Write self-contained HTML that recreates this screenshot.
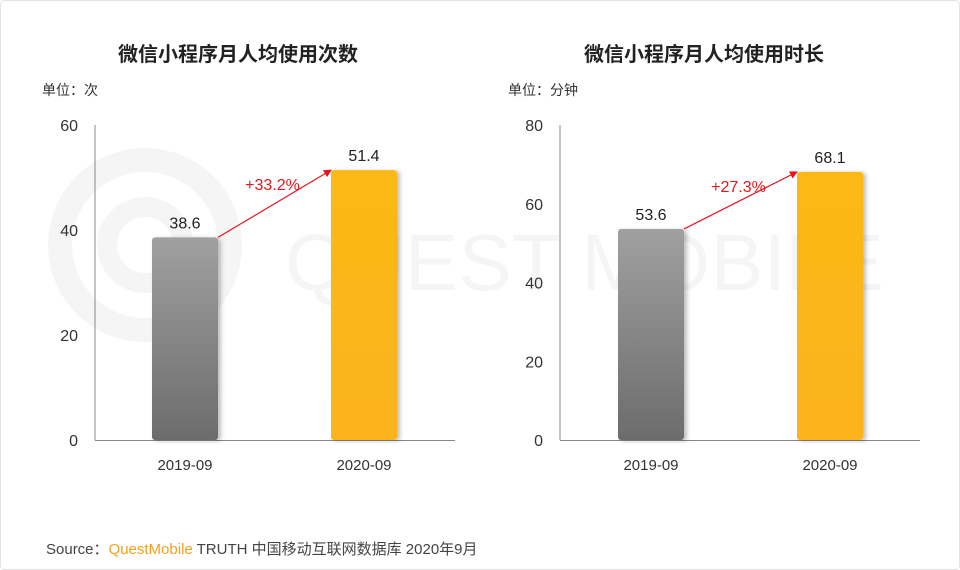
<!DOCTYPE html>
<html><head><meta charset="utf-8">
<style>
body{margin:0;background:#fff;}
#wrap{position:relative;width:960px;height:570px;overflow:hidden;background:#fff;font-family:"Liberation Sans","Noto Sans CJK SC",sans-serif;}
.title{position:absolute;top:38px;font-size:20px;font-weight:bold;color:#222;}
.unit{position:absolute;top:80px;font-size:14px;color:#333;}
.src{position:absolute;left:46px;top:538px;font-size:15px;color:#444;}
.src b{font-weight:normal;color:#f5a01e;}
</style></head><body>
<div id="wrap">
<svg id="svg" width="960" height="570" style="position:absolute;left:0;top:0">
<defs>
<linearGradient id="gGray" x1="0" y1="0" x2="0" y2="1"><stop offset="0" stop-color="#a0a0a0"/><stop offset="1" stop-color="#6c6c6c"/></linearGradient>
<linearGradient id="gGold" x1="0" y1="0" x2="0" y2="1"><stop offset="0" stop-color="#fbb817"/><stop offset="1" stop-color="#fbb41d"/></linearGradient>
<filter id="sh" x="-20%" y="-10%" width="150%" height="120%"><feDropShadow dx="3" dy="1" stdDeviation="2" flood-color="#000" flood-opacity="0.25"/></filter>
<marker id="arr" markerWidth="8" markerHeight="8" refX="7" refY="4" orient="auto" markerUnits="userSpaceOnUse"><path d="M0,0 L8,4 L0,8 z" fill="#e8141b"/></marker>
</defs>
<rect x="0.5" y="0.5" width="959" height="569" rx="4" fill="none" stroke="#e2e2e2"/>
<g opacity="0.035" fill="none" stroke="#000">
<circle cx="145" cy="245" r="85" stroke-width="24"/><circle cx="145" cy="245" r="38" stroke-width="20"/>
<text x="285" y="290" font-size="80" fill="#000" stroke="none" font-family="Liberation Sans">QUEST MOBILE</text>
</g>
</svg>
<div class="title" style="left:118px">微信小程序月人均使用次数</div>
<div class="title" style="left:584px">微信小程序月人均使用时长</div>
<div class="unit" style="left:42px">单位：次</div>
<div class="unit" style="left:508px">单位：分钟</div>
<div class="src">Source：<b>QuestMobile</b> TRUTH 中国移动互联网数据库 2020年9月</div>
</div>
<script>
const categories = ["2019-09","2020-09"];
const leftValues = [38.6, 51.4];
const rightValues = [53.6, 68.1];
const leftTicks = [0,20,40,60];
const rightTicks = [0,20,40,60,80];
const leftGrowth = "+33.2%";
const rightGrowth = "+27.3%";

const NS="http://www.w3.org/2000/svg";
const svg=document.getElementById('svg');
function mk(tag,attrs,txt){const e=document.createElementNS(NS,tag);for(const k in attrs)e.setAttribute(k,attrs[k]);if(txt!=null)e.textContent=txt;svg.appendChild(e);return e;}

function drawChart(prefix,axisX,axisEnd,barXs,values,ticks,growth){
  const y0=440,yTop=125,max=ticks[ticks.length-1];
  const y=v=>y0-(v/max)*(y0-yTop);
  const ax=mk('line',{x1:axisX,y1:yTop,x2:axisX,y2:y0,stroke:'#888','stroke-width':1});
  
  
  const bx=mk('line',{x1:axisX,y1:y0+0.5,x2:axisEnd,y2:y0+0.5,stroke:'#888','stroke-width':1});
  
  
  ticks.forEach(t=>{
    const tl=mk('text',{x:axisX-17,y:y(t)+6,'text-anchor':'end','font-size':16,fill:'#333'},t);
    
    
  });
  const w=66;
  values.forEach((v,i)=>{
    const r=mk('rect',{x:barXs[i],y:y(v),width:w,height:y0-y(v),rx:3,fill:i===0?'url(#gGray)':'url(#gGold)',filter:'url(#sh)'});
    
    
    const vl=mk('text',{x:barXs[i]+w/2,y:y(v)-9,'text-anchor':'middle','font-size':16,fill:'#222'},v.toFixed(1));
    
    
    const cl=mk('text',{x:barXs[i]+w/2,y:470,'text-anchor':'middle','font-size':15,fill:'#333'},categories[i]);
    
    
  });
  const x1=barXs[0]+w,y1=y(values[0]),x2=barXs[1],y2=y(values[1]);
  const a=mk('line',{x1:x1,y1:y1,x2:x2,y2:y2,stroke:'#e8141b','stroke-width':1.2,'marker-end':'url(#arr)'});
  
  
  const g=mk('text',{x:(x1+x2)/2-2,y:Math.min(y1,y2)+20,'text-anchor':'middle','font-size':16,fill:'#e8141b'},growth);
  
  
}
drawChart('left',95,455,[152,331],leftValues,leftTicks,leftGrowth);
drawChart('right',560,920,[618,797],rightValues,rightTicks,rightGrowth);
</script>
</body></html>
